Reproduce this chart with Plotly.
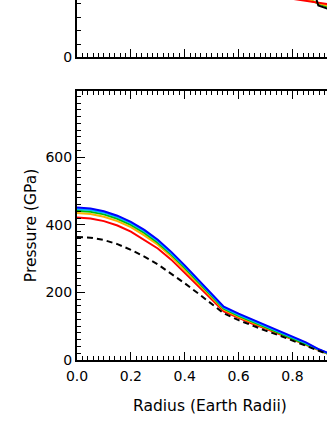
import plotly.graph_objects as go
from plotly.subplots import make_subplots

# Radius grid (Earth radii), kink at core-mantle boundary ~0.545
radius = [0.0, 0.05, 0.1, 0.15, 0.2, 0.25, 0.3, 0.35, 0.4, 0.45, 0.5, 0.545,
          0.6, 0.65, 0.7, 0.75, 0.8, 0.85, 0.9, 0.95, 1.0]

# Pressure profiles (GPa)
p_blue = [451, 448, 440, 427, 409, 385, 356, 320, 280, 238, 196, 158,
          137, 120, 103, 87, 70, 52, 31, 14, 0]
p_cyan = [447, 444, 436, 423, 405, 381, 352, 316, 277, 235, 193, 155,
          134, 117, 100, 84, 67, 50, 30, 13, 0]
p_green = [442, 439, 431, 418, 400, 376, 347, 312, 273, 231, 190, 152,
           131, 114, 98, 82, 65, 48, 29, 13, 0]
p_orange = [435, 432, 424, 411, 393, 369, 341, 306, 267, 226, 185, 149,
            128, 111, 95, 80, 63, 47, 28, 12, 0]
p_red = [422, 419, 411, 398, 380, 356, 330, 297, 259, 220, 180, 144,
         124, 108, 93, 78, 61, 45, 27, 12, 0]
p_dash = [364, 362, 355, 343, 326, 306, 283, 256, 227, 197, 167, 138,
          118, 102, 87, 73, 57, 42, 26, 11, 0]

# Top panel sliver (only the tail end of its curves is visible)
top_r = [0.78, 0.85, 0.93]
top_red = [4.41, 4.19, 3.95]
top_orange = [4.55, 4.3, 3.85]
top_green = [4.65, 4.36, 3.76]
top_dash_r = [0.886, 0.896, 0.93]
top_dash = [4.5, 3.85, 3.62]

colors = ["#0000ff", "#00b4ff", "#00c000", "#ffb000", "#ff0000"]
font = dict(family="DejaVu Sans", size=14, color="black")
title_font = dict(family="DejaVu Sans", size=15.5, color="black")

fig = make_subplots(rows=2, cols=1)

for vals, c in zip([p_blue, p_cyan, p_green, p_orange, p_red][::-1], colors[::-1]):
    fig.add_trace(go.Scatter(x=radius, y=vals, mode="lines",
                             line=dict(color=c, width=2), showlegend=False),
                  row=2, col=1)
fig.add_trace(go.Scatter(x=radius, y=p_dash, mode="lines",
                         line=dict(color="black", width=2, dash="6px,4px"),
                         showlegend=False), row=2, col=1)

for vals, c in zip([top_green, top_orange, top_red], ["#00c000", "#ffb000", "#ff0000"]):
    fig.add_trace(go.Scatter(x=top_r, y=vals, mode="lines",
                             line=dict(color=c, width=2), showlegend=False),
                  row=1, col=1)
fig.add_trace(go.Scatter(x=top_dash_r, y=top_dash, mode="lines",
                         line=dict(color="black", width=2), showlegend=False),
              row=1, col=1)

xr = [0, 0.9283]
common_x = dict(range=xr, showgrid=False, zeroline=False, showline=True,
                linecolor="black", linewidth=2, ticks="inside", ticklen=8,
                tickwidth=1, tickcolor="black", dtick=0.2, tick0=0,
                minor=dict(dtick=0.02, ticks="inside", ticklen=4,
                           tickwidth=1, tickcolor="black"))
fig.update_xaxes(**common_x)
fig.update_xaxes(showticklabels=False, row=1, col=1)
fig.update_xaxes(tickformat=".1f", mirror="allticks", tickfont=font,
                 ticklabelstandoff=2, row=2, col=1)

fig.update_yaxes(showgrid=False, zeroline=False, showline=True,
                 linecolor="black", linewidth=2, ticks="inside", ticklen=8,
                 tickwidth=1, tickcolor="black", tickfont=font)
fig.update_yaxes(domain=[0.8403, 1], range=[0, 4.26], dtick=5, tick0=0,
                 minor=dict(dtick=1, ticks="inside", ticklen=4, tickwidth=1,
                            tickcolor="black"), row=1, col=1)
fig.update_yaxes(domain=[0, 0.7472], range=[0, 796], dtick=200, tick0=0,
                 minor=dict(dtick=20, ticks="inside", ticklen=4, tickwidth=1,
                            tickcolor="black"), row=2, col=1)

fig.add_annotation(text="Radius (Earth Radii)", xref="x2", yref="paper",
                   x=0.495, y=0, yanchor="middle", yshift=-46,
                   showarrow=False, font=title_font)
fig.add_annotation(text="Pressure (GPa)", xref="paper", yref="y2",
                   x=0, y=396, xanchor="center", xshift=-46, textangle=-90,
                   showarrow=False, font=title_font)

fig.update_layout(width=327, height=423,
                  margin=dict(l=77, r=0, t=0, b=63),
                  plot_bgcolor="white", paper_bgcolor="white",
                  font=font, showlegend=False)

# drop the page's default 8px body margin so the figure sits at the corner
fig.write_html("out.html", config={"displayModeBar": False},
               post_script="document.body.style.margin='0';")
